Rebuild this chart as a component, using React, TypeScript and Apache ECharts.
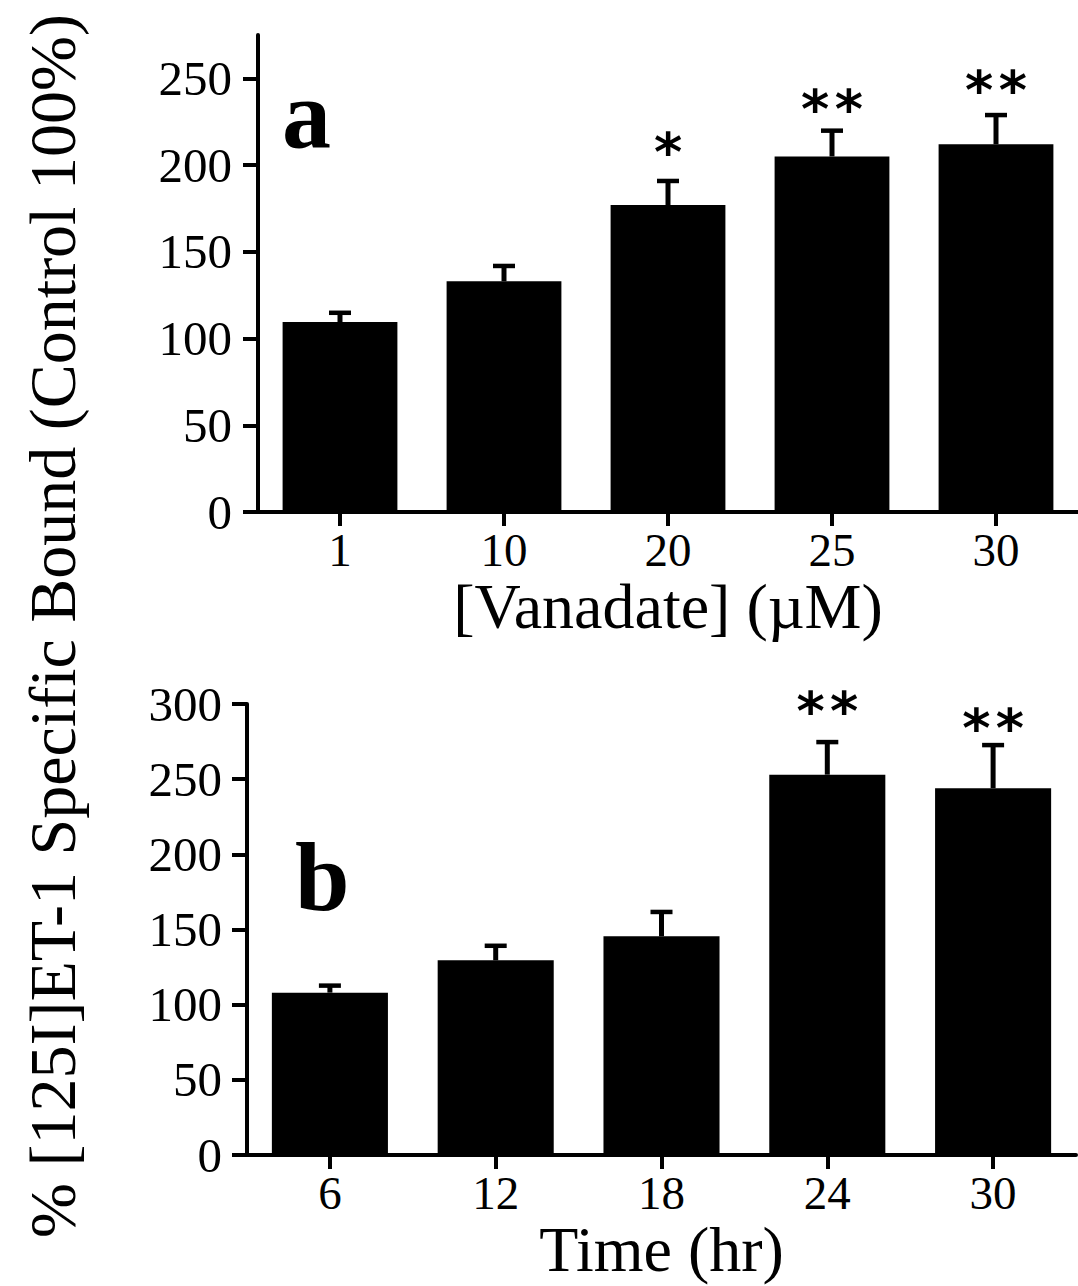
import React, { useEffect, useRef } from "react";
import * as echarts from "echarts";

// Panel a: vanadate concentration
const catsA = ["1", "10", "20", "25", "30"];
const meanA = [109.5, 133, 177, 205, 212];
const errTopA = [116, 143, 192, 221, 230];
const starsA = ["", "", "*", "**", "**"];
const starYA = [0, 0, 213, 238, 249];
const ticksA = [0, 50, 100, 150, 200, 250];

// Panel b: time course
const catsB = ["6", "12", "18", "24", "30"];
const meanB = [108, 129.5, 145.5, 253, 244];
const errTopB = [114, 140.5, 163, 276, 274];
const starsB = ["", "", "", "**", "**"];
const starYB = [0, 0, 0, 301.5, 290.5];
const ticksB = [0, 50, 100, 150, 200, 250, 300];

const SERIF = '"Liberation Serif", "Times New Roman", serif';

function errSeries(axisIdx: number, means: number[], tops: number[]) {
  return {
    type: "custom",
    xAxisIndex: axisIdx,
    yAxisIndex: axisIdx,
    clip: false,
    z: 5,
    data: means.map((m, i) => [i, m, tops[i]]),
    renderItem: (params: any, api: any) => {
      const pMean = api.coord([api.value(0), api.value(1)]);
      const pTop = api.coord([api.value(0), api.value(2)]);
      const x = pMean[0];
      const capY = pTop[1] + 2;
      return {
        type: "group",
        children: [
          {
            type: "line",
            shape: { x1: x, y1: pMean[1], x2: x, y2: capY },
            style: { stroke: "#000", lineWidth: 5 },
          },
          {
            type: "line",
            shape: { x1: x - 11, y1: capY, x2: x + 11, y2: capY },
            style: { stroke: "#000", lineWidth: 4.5 },
          },
        ],
      };
    },
  };
}

function starSeries(axisIdx: number, stars: string[], ys: number[]) {
  const data: any[] = [];
  stars.forEach((s, i) => {
    if (s) data.push([i, ys[i], s]);
  });
  return {
    type: "custom",
    xAxisIndex: axisIdx,
    yAxisIndex: axisIdx,
    clip: false,
    z: 6,
    data,
    renderItem: (params: any, api: any) => {
      const p = api.coord([api.value(0), api.value(1)]);
      const s = data[params.dataIndex][2] as string;
      return {
        type: "text",
        x: p[0],
        y: p[1] + 10,
        style: {
          text: s.split("").join("\u200A"),
          fill: "#000",
          font: 'bold 54px "DejaVu Sans", sans-serif',
          align: "center",
          verticalAlign: "middle",
        },
      };
    },
  };
}

function xAxisCfg(gridIndex: number, cats: string[], name: string, nameGap: number) {
  return {
    type: "category",
    gridIndex,
    data: cats,
    boundaryGap: true,
    axisLine: { show: true, lineStyle: { color: "#000", width: 4 } },
    axisTick: { show: true, alignWithLabel: true, length: 14, lineStyle: { color: "#000", width: 4 } },
    axisLabel: { color: "#000", fontFamily: SERIF, fontSize: 47, margin: 14 },
    splitLine: { show: false },
    name,
    nameLocation: "middle",
    nameGap,
    nameTextStyle: { color: "#000", fontFamily: SERIF, fontSize: 64 },
  };
}

function yAxisCfg(gridIndex: number, max: number, ticks: number[], margin: number) {
  return {
    type: "value",
    gridIndex,
    min: 0,
    max,
    interval: 50,
    axisLine: { show: true, lineStyle: { color: "#000", width: 4 } },
    axisTick: { show: true, length: 15, customValues: ticks, lineStyle: { color: "#000", width: 4 } },
    axisLabel: { color: "#000", fontFamily: SERIF, fontSize: 49, margin, customValues: ticks },
    splitLine: { show: false },
  };
}

export default function App() {
  const ref = useRef<HTMLDivElement>(null);
  useEffect(() => {
    document.body.style.margin = "0";
    if (!ref.current) return;
    const chart = echarts.init(ref.current, undefined, { renderer: "svg" });
    chart.setOption({
      animation: false,
      backgroundColor: "#fff",
      grid: [
        { left: 258, top: 35, width: 828, height: 477 },
        { left: 247, top: 704, width: 829, height: 451 },
      ],
      xAxis: [
        xAxisCfg(0, catsA, "[Vanadate] (\u00b5M)", 62),
        xAxisCfg(1, catsB, "Time (hr)", 62),
      ],
      yAxis: [yAxisCfg(0, 275, ticksA, 26), yAxisCfg(1, 300, ticksB, 25)],
      series: [
        {
          type: "bar",
          xAxisIndex: 0,
          yAxisIndex: 0,
          data: meanA,
          barWidth: "70%",
          itemStyle: { color: "#000" },
        },
        {
          type: "bar",
          xAxisIndex: 1,
          yAxisIndex: 1,
          data: meanB,
          barWidth: "70%",
          itemStyle: { color: "#000" },
        },
        errSeries(0, meanA, errTopA),
        errSeries(1, meanB, errTopB),
        starSeries(0, starsA, starYA),
        starSeries(1, starsB, starYB),
      ],
      graphic: [
        {
          type: "text",
          x: 52,
          y: 626,
          rotation: Math.PI / 2,
          style: {
            text: "% [125I]ET-1 Specific Bound (Control 100%)",
            fill: "#000",
            font: `66px ${SERIF}`,
            align: "center",
            verticalAlign: "middle",
          },
        },
        {
          type: "text",
          x: 282,
          y: 114,
          style: {
            text: "a",
            fill: "#000",
            font: `bold 98px ${SERIF}`,
            align: "left",
            verticalAlign: "middle",
          },
        },
        {
          type: "text",
          x: 295,
          y: 877,
          style: {
            text: "b",
            fill: "#000",
            font: `bold 98px ${SERIF}`,
            align: "left",
            verticalAlign: "middle",
          },
        },
      ],
    });
    return () => chart.dispose();
  }, []);
  return <div ref={ref} style={{ width: 1078, height: 1286 }} />;
}
